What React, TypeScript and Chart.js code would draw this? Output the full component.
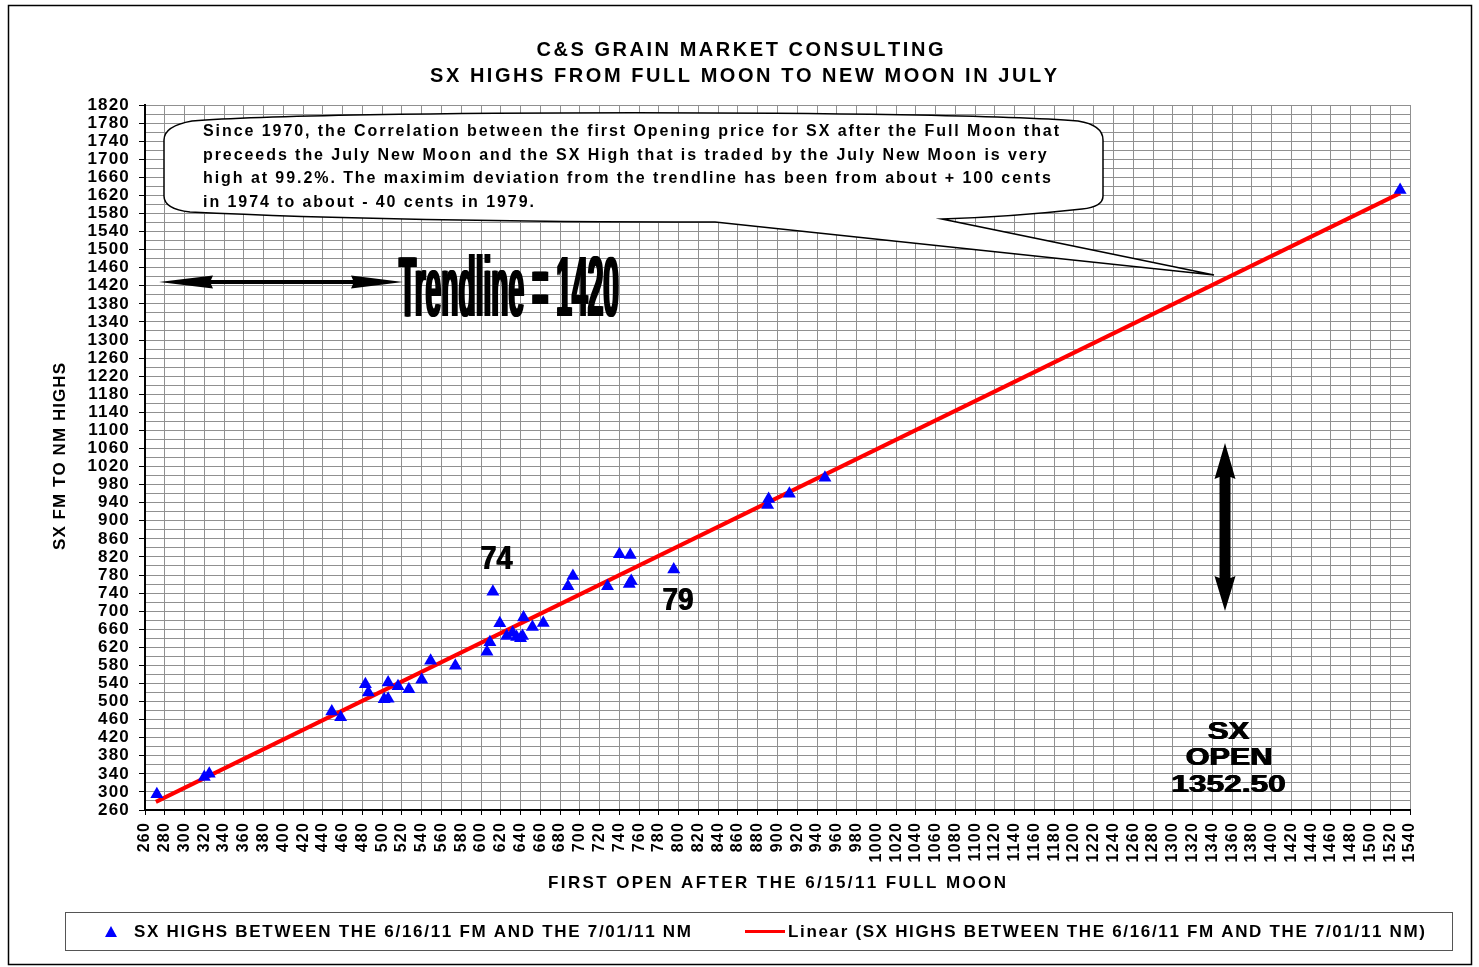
import React, { useEffect, useRef } from 'react';
import { Chart, registerables } from 'chart.js';

Chart.register(...registerables);

// ---- Data ----
const firstOpen = [272, 320, 325, 449, 458, 483, 486, 502, 506, 506, 516, 527, 540, 549, 574, 606, 609, 612, 619, 626, 632, 636, 640, 642, 643, 652, 663, 688, 693, 728, 740, 751, 750, 752, 795, 890, 891, 912, 948, 1530];
const highs = [295, 333, 340, 478, 465, 538, 520, 505, 506, 542, 534, 527, 548, 590, 579, 610, 631, 743, 673, 645, 652, 643, 640, 645, 686, 665, 674, 755, 778, 755, 826, 824, 760, 767, 792, 935, 948, 960, 995, 1632];
const trendX = [271, 1530];
const trendY = [278, 1625];

const X_MIN = 260;
const X_MAX = 1540;
const X_STEP = 20;
const Y_MIN = 260;
const Y_MAX = 1820;
const Y_STEP = 20;
const Y_LABEL_STEP = 40;

const titleLines = ['C&S GRAIN MARKET CONSULTING', 'SX HIGHS FROM FULL MOON TO NEW MOON IN JULY'];
const xTitle = 'FIRST OPEN AFTER THE 6/15/11 FULL MOON';
const yTitle = 'SX FM TO NM HIGHS';
const calloutLines = [
  'Since 1970, the Correlation between the first Opening price for SX after the Full Moon that',
  'preceeds the July New Moon and the SX High that is traded by the July New Moon is very',
  'high at 99.2%. The maximim deviation from the trendline has been from about + 100 cents',
  'in 1974 to about - 40 cents in 1979.',
];
const trendText = 'Trendline = 1420';
const openText = ['SX', 'OPEN', '1352.50'];
const yearLabels = ['74', '79'];
const seriesLabel = 'SX HIGHS BETWEEN THE 6/16/11 FM AND THE 7/01/11 NM';
const trendLabel = 'Linear (SX HIGHS BETWEEN THE 6/16/11 FM AND THE 7/01/11 NM)';

const FONT = '"Liberation Sans", Arial, Helvetica, sans-serif';

function spacingFor(ctx: CanvasRenderingContext2D, text: string, width: number) {
  const chars = Array.from(text);
  const nat = chars.reduce((a, c) => a + ctx.measureText(c).width, 0);
  return chars.length > 1 ? (width - nat) / (chars.length - 1) : 0;
}

function spacedText(ctx: CanvasRenderingContext2D, text: string, x: number, y: number, spacing: number, align: 'left' | 'center') {
  const chars = Array.from(text);
  const ws = chars.map((c) => ctx.measureText(c).width);
  const total = ws.reduce((a, b) => a + b, 0) + spacing * (chars.length - 1);
  let cx = align === 'center' ? x - total / 2 : x;
  ctx.textAlign = 'left';
  chars.forEach((c, i) => {
    ctx.fillText(c, cx, y);
    cx += ws[i] + spacing;
  });
}

function fitSpaced(ctx: CanvasRenderingContext2D, text: string, x: number, y: number, width: number, align: 'left' | 'center') {
  spacedText(ctx, text, x, y, spacingFor(ctx, text, width), align);
}

function scaledText(ctx: CanvasRenderingContext2D, text: string, cx: number, baseline: number, width: number, font: string, offsets: number[]) {
  ctx.font = font;
  const w = ctx.measureText(text).width;
  const extra = offsets.length ? Math.max(...offsets) - Math.min(...offsets) : 0;
  const sx = (width - extra) / w;
  offsets.forEach((dx) => {
    ctx.save();
    ctx.translate(cx + dx, baseline);
    ctx.scale(sx, 1);
    ctx.textAlign = 'left';
    ctx.textBaseline = 'alphabetic';
    ctx.fillText(text, -w / 2, 0);
    ctx.restore();
  });
}

const decorPlugin = {
  id: 'decor',
  beforeDraw(chart: any) {
    const ctx: CanvasRenderingContext2D = chart.ctx;
    ctx.save();
    ctx.fillStyle = '#ffffff';
    ctx.fillRect(0, 0, chart.width, chart.height);
    ctx.restore();
    (ctx as any).letterSpacing = '1.2px';
  },
  afterDraw(chart: any) {
    const ctx: CanvasRenderingContext2D = chart.ctx;
    ctx.save();
    (ctx as any).letterSpacing = '0px';
    ctx.fillStyle = '#000';
    ctx.strokeStyle = '#000';
    ctx.textBaseline = 'middle';

    // outer frame
    ctx.lineWidth = 1.5;
    ctx.strokeRect(8.5, 5.5, 1463, 959);

    // title
    ctx.font = `bold 20px ${FONT}`;
    fitSpaced(ctx, titleLines[0], 740, 50, 407, 'center');
    fitSpaced(ctx, titleLines[1], 743.5, 76.5, 627, 'center');

    // axis titles
    ctx.font = `bold 17px ${FONT}`;
    fitSpaced(ctx, xTitle, 777, 883, 458, 'center');
    ctx.save();
    ctx.translate(60, 456.5);
    ctx.rotate(-Math.PI / 2);
    fitSpaced(ctx, yTitle, 0, 0, 187, 'center');
    ctx.restore();

    // callout
    ctx.beginPath();
    ctx.moveTo(164, 140);
    ctx.quadraticCurveTo(164, 126, 192, 121);
    ctx.bezierCurveTo(330, 110, 940, 110, 1078, 121);
    ctx.quadraticCurveTo(1103, 125, 1103, 140);
    ctx.lineTo(1103, 196);
    ctx.quadraticCurveTo(1103, 207, 1082, 209);
    ctx.quadraticCurveTo(1010, 217, 942, 219);
    ctx.lineTo(1214, 275);
    ctx.lineTo(715, 222);
    ctx.quadraticCurveTo(400, 222, 190, 212);
    ctx.quadraticCurveTo(164, 209, 164, 196);
    ctx.closePath();
    ctx.fillStyle = '#fff';
    ctx.fill();
    ctx.lineWidth = 1.5;
    ctx.stroke();
    ctx.fillStyle = '#000';
    ctx.font = `bold 16px ${FONT}`;
    const cs = spacingFor(ctx, calloutLines[0], 856);
    const cy = [132, 155.5, 179, 202.5];
    calloutLines.forEach((l, i) => spacedText(ctx, l, 203, cy[i], cs, 'left'));

    // horizontal double arrow
    ctx.beginPath();
    ctx.moveTo(159, 282);
    ctx.lineTo(213, 275.5);
    ctx.lineTo(211, 280);
    ctx.lineTo(353, 280);
    ctx.lineTo(351, 275.5);
    ctx.lineTo(403, 282);
    ctx.lineTo(351, 288.5);
    ctx.lineTo(353, 284);
    ctx.lineTo(211, 284);
    ctx.lineTo(213, 288.5);
    ctx.closePath();
    ctx.fill();

    // vertical double arrow
    ctx.beginPath();
    ctx.moveTo(1225, 443);
    ctx.lineTo(1235.5, 479);
    ctx.lineTo(1230.5, 477);
    ctx.lineTo(1230.5, 578);
    ctx.lineTo(1235.5, 576);
    ctx.lineTo(1225, 611);
    ctx.lineTo(1214.5, 576);
    ctx.lineTo(1219.5, 578);
    ctx.lineTo(1219.5, 477);
    ctx.lineTo(1214.5, 479);
    ctx.closePath();
    ctx.fill();

    // Trendline = 1420
    scaledText(ctx, trendText, 509, 316, 222, `bold 85px ${FONT}`, [-1, 0, 1]);

    // SX OPEN 1352.50
    scaledText(ctx, openText[0], 1228.5, 738.5, 43, `bold 23px ${FONT}`, [-0.7, 0, 0.7]);
    scaledText(ctx, openText[1], 1229, 765, 88, `bold 23px ${FONT}`, [-0.7, 0, 0.7]);
    scaledText(ctx, openText[2], 1228.5, 791.5, 116, `bold 23px ${FONT}`, [-0.7, 0, 0.7]);

    // year labels
    scaledText(ctx, yearLabels[0], 496.5, 569, 33, `bold 33px ${FONT}`, [-0.5, 0.5]);
    scaledText(ctx, yearLabels[1], 678, 610, 32, `bold 32px ${FONT}`, [-0.5, 0.5]);

    // legend
    ctx.lineWidth = 1;
    ctx.strokeStyle = '#555';
    ctx.strokeRect(65.5, 912.5, 1387, 38);
    ctx.fillStyle = '#0000ff';
    ctx.beginPath();
    ctx.moveTo(111, 926);
    ctx.lineTo(117, 937);
    ctx.lineTo(105, 937);
    ctx.closePath();
    ctx.fill();
    ctx.strokeStyle = '#ff0000';
    ctx.lineWidth = 3;
    ctx.beginPath();
    ctx.moveTo(745, 931.5);
    ctx.lineTo(785, 931.5);
    ctx.stroke();
    ctx.fillStyle = '#000';
    ctx.font = `bold 17px ${FONT}`;
    fitSpaced(ctx, seriesLabel, 134, 932, 557, 'left');
    fitSpaced(ctx, trendLabel, 788, 932, 637, 'left');

    ctx.restore();
  },
};

export default function App() {
  const ref = useRef<HTMLCanvasElement>(null);

  useEffect(() => {
    const canvas = ref.current;
    if (!canvas) return;
    const scatterData = firstOpen.map((x, i) => ({ x, y: highs[i] }));
    const trendData = trendX.map((x, i) => ({ x, y: trendY[i] }));
    const isLabeledY = (v: number) => (v - Y_MIN) % Y_LABEL_STEP === 0;

    const chart = new Chart(canvas, {
      type: 'scatter',
      data: {
        datasets: [
          {
            label: seriesLabel,
            data: scatterData,
            pointStyle: 'triangle',
            pointRadius: 7.5,
            pointBackgroundColor: '#0000ff',
            pointBorderColor: '#0000ff',
            pointBorderWidth: 0,
            backgroundColor: '#0000ff',
            borderColor: '#0000ff',
            order: 0,
          },
          {
            label: trendLabel,
            data: trendData,
            showLine: true,
            borderColor: '#ff0000',
            backgroundColor: '#ff0000',
            borderWidth: 4,
            pointRadius: 0,
            order: 1,
          },
        ],
      },
      options: {
        responsive: false,
        animation: false,
        events: [],
        layout: { padding: { left: 0, right: 69, top: 105, bottom: 67 } },
        plugins: {
          legend: { display: false },
          title: { display: false },
          tooltip: { enabled: false },
        },
        scales: {
          x: {
            type: 'linear',
            min: X_MIN,
            max: X_MAX,
            afterFit: (s: any) => {
              s.height = 90;
            },
            ticks: {
              stepSize: X_STEP,
              autoSkip: false,
              maxRotation: 90,
              minRotation: 90,
              padding: 7,
              color: '#000',
              font: { family: FONT, size: 16, weight: 'bold' },
              callback: (v: any) => String(v),
            },
            grid: { color: '#909090', lineWidth: 1, tickLength: 5, tickColor: '#000' },
            border: { color: '#000', width: 2 },
          },
          y: {
            type: 'linear',
            min: Y_MIN,
            max: Y_MAX,
            afterFit: (s: any) => {
              s.width = 145;
            },
            ticks: {
              stepSize: Y_STEP,
              autoSkip: false,
              padding: 9,
              color: '#000',
              font: { family: FONT, size: 17, weight: 'bold' },
              callback: (v: any) => (isLabeledY(Number(v)) ? String(v) : ''),
            },
            grid: {
              color: '#909090',
              lineWidth: 1,
              tickLength: 6,
              tickColor: (c: any) => (c.tick && isLabeledY(c.tick.value) ? '#000' : 'rgba(0,0,0,0)'),
            },
            border: { color: '#000', width: 2 },
          },
        },
      } as any,
      plugins: [decorPlugin],
    });
    return () => chart.destroy();
  }, []);

  return (
    <canvas
      ref={ref}
      width={1479}
      height={967}
      style={{ position: 'fixed', left: 0, top: 0, width: 1479, height: 967, display: 'block' }}
    />
  );
}
